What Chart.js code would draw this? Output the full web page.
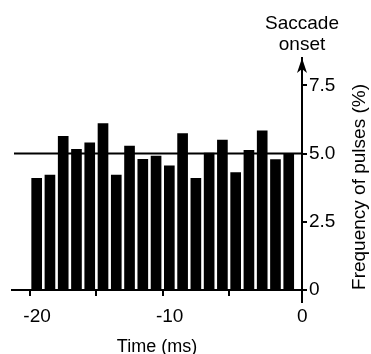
<!DOCTYPE html>
<html>
<head>
<meta charset="utf-8">
<script src="https://cdn.jsdelivr.net/npm/chart.js@4/dist/chart.umd.min.js"></script>
<style>
  body { margin: 0; background: #fff; }
</style>
</head>
<body>
<canvas id="myChart" width="371" height="354"></canvas>
<script>
// bin centres (ms before saccade onset) and pulse frequency per bin (%)
var binCenters = [-19.5, -18.5, -17.5, -16.5, -15.5, -14.5, -13.5, -12.5, -11.5, -10.5,
                  -9.5, -8.5, -7.5, -6.5, -5.5, -4.5, -3.5, -2.5, -1.5, -0.5];
var frequency = [4.09, 4.21, 5.63, 5.15, 5.39, 6.10, 4.21, 5.27, 4.79, 4.91,
                 4.55, 5.73, 4.09, 5.02, 5.49, 4.30, 5.12, 5.83, 4.78, 5.00];
var xTicks = [-20, -15, -10, -5, 0];
var xTickLabels = ['-20', '', '-10', '', '0'];
var yTicks = [0, 2.5, 5, 7.5];
var yTickLabels = ['0', '2.5', '5.0', '7.5'];
var meanLevel = 5.0;

var font = 'Liberation Sans, Arial, sans-serif';

// mean line, arrow on the y axis and the extra labels
var extras = {
    id: 'extras',
    afterDatasetsDraw: function(chart) {
        var c = chart.ctx, a = chart.chartArea;
        var y5 = chart.scales.y.getPixelForValue(meanLevel);
        var ax = a.right;
        c.save();
        c.strokeStyle = '#000';
        c.fillStyle = '#000';
        c.lineWidth = 2;
        c.beginPath();
        c.moveTo(a.left + 2, y5);
        c.lineTo(ax, y5);
        c.stroke();
        // axis tail below the x axis
        c.beginPath();
        c.moveTo(ax, a.bottom);
        c.lineTo(ax, a.bottom + 13);
        c.stroke();
        // arrow head
        c.beginPath();
        c.moveTo(ax, a.top);
        c.lineTo(ax + 5, a.top + 15);
        c.lineTo(ax, a.top + 11);
        c.lineTo(ax - 5, a.top + 15);
        c.closePath();
        c.fill();
        // labels
        c.font = '19px ' + font;
        c.textAlign = 'center';
        c.textBaseline = 'alphabetic';
        c.fillText('Saccade', ax, 29);
        c.fillText('onset', ax, 50);
        c.translate(365, (a.top + a.bottom) / 2 + 13);
        c.rotate(-Math.PI / 2);
        c.fillText('Frequency of pulses (%)', 0, 0);
        c.restore();
    }
};

var ctx = document.getElementById('myChart').getContext('2d');
var chart = new Chart(ctx, {
    type: 'bar',
    data: {
        datasets: [{
            data: binCenters.map(function(x, i) { return {x: x, y: frequency[i]}; }),
            backgroundColor: '#000',
            borderWidth: 0,
            barThickness: 10
        }]
    },
    options: {
        responsive: false,
        animation: false,
        layout: { padding: { left: 12, top: 58, right: 0, bottom: 0 } },
        plugins: { legend: { display: false }, tooltip: { enabled: false } },
        scales: {
            x: {
                type: 'linear',
                offset: false,
                min: -21.36,
                max: 0.5,
                afterBuildTicks: function(s) { s.ticks = xTicks.map(function(v) { return {value: v}; }); },
                afterFit: function(s) { s.height = 64; },
                grid: {
                    drawOnChartArea: false,
                    offset: false,
                    color: function(c) { return c.tick && c.tick.value === 0 ? 'rgba(0,0,0,0)' : '#000'; },
                    lineWidth: 2,
                    tickLength: 6
                },
                border: { color: '#000', width: 2 },
                ticks: {
                    color: '#000',
                    padding: 9,
                    labelOffset: 7,
                    maxRotation: 0,
                    font: { family: font, size: 19 },
                    callback: function(v, i) { return xTickLabels[i]; }
                },
                title: {
                    display: true,
                    text: 'Time (ms)',
                    color: '#000',
                    font: { family: font, size: 18 },
                    padding: { top: 0, bottom: -4 }
                }
            },
            y: {
                position: 'right',
                min: 0,
                max: 8.5,
                afterBuildTicks: function(s) { s.ticks = yTicks.map(function(v) { return {value: v}; }); },
                afterFit: function(s) { s.width = 69; },
                grid: { drawOnChartArea: false, color: '#000', lineWidth: 2, tickLength: 5 },
                border: { color: '#000', width: 2 },
                ticks: {
                    color: '#000',
                    padding: 2,
                    font: { family: font, size: 19 },
                    callback: function(v, i) { return yTickLabels[i]; }
                }
            }
        }
    },
    plugins: [extras]
});
</script>
</body>
</html>
